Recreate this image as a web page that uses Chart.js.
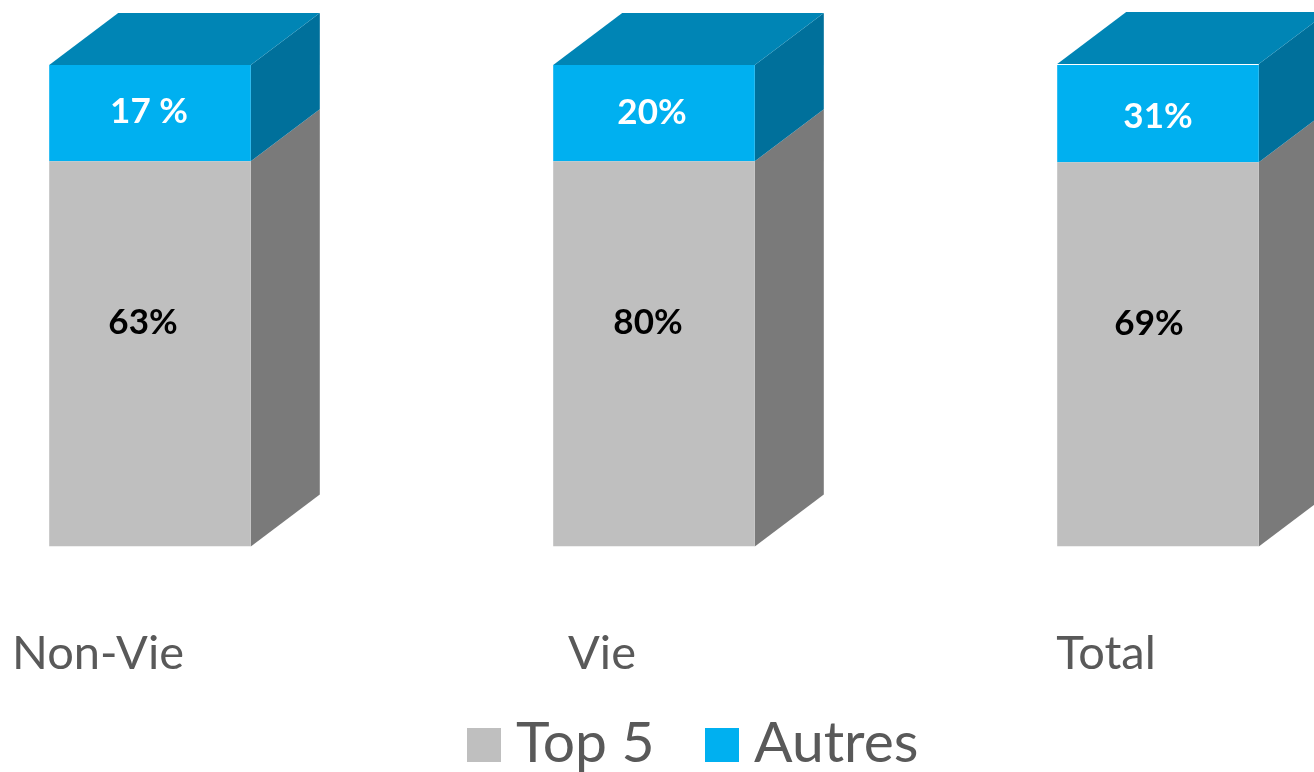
<!DOCTYPE html>
<html>
<head>
<meta charset="utf-8">
<script src="https://cdn.jsdelivr.net/npm/chart.js@4"></script>
<style>
  html, body { margin: 0; padding: 0; background: #fff; overflow: hidden; width: 1314px; height: 772px; }
  #wrap { position: absolute; left: -102px; top: 0; width: 1512px; height: 772px; }
</style>
</head>
<body>
<div id="wrap"><canvas id="chart" width="1512" height="772"></canvas></div>
<script>
const categories = ['Non-Vie', 'Vie', 'Total'];
// bar heights as drawn in the picture (all three are the same shape)
const top5Heights = [80, 80, 79.8];
const autresHeights = [20, 20, 20.4];
// the printed labels do not follow the heights
const top5Labels = ['63%', '80%', '69%'];
const autresLabels = ['17 %', '20%', '31%'];

const fontName = 'Lato, "Open Sans", sans-serif';

// faces of the block, drawn behind the front bars
const blockFaces = {
  id: 'blockFaces',
  beforeDatasetsDraw(chart, args, opts) {
    const c = chart.ctx;
    chart.data.datasets.forEach((ds, i) => {
      const last = i === chart.data.datasets.length - 1;
      chart.getDatasetMeta(i).data.forEach(bar => {
        const right = bar.x + bar.width / 2;
        const left = bar.x - bar.width / 2;
        c.fillStyle = ds.sideColor;
        c.beginPath();
        c.moveTo(right, bar.y);
        c.lineTo(right + opts.dx, bar.y - opts.dy);
        c.lineTo(right + opts.dx, bar.base - opts.dy);
        c.lineTo(right, bar.base);
        c.closePath();
        c.fill();
        if (last) {
          c.fillStyle = ds.topColor;
          c.beginPath();
          c.moveTo(left, bar.y);
          c.lineTo(left + opts.dx, bar.y - opts.dy);
          c.lineTo(right + opts.dx, bar.y - opts.dy);
          c.lineTo(right, bar.y);
          c.closePath();
          c.fill();
        }
      });
    });
  }
};

const barLabels = {
  id: 'barLabels',
  afterDatasetsDraw(chart, args, opts) {
    const c = chart.ctx;
    c.font = opts.font;
    c.textAlign = 'center';
    c.textBaseline = 'middle';
    chart.data.datasets.forEach((ds, i) => {
      chart.getDatasetMeta(i).data.forEach((bar, j) => {
        const nudge = ds.labelNudge[j];
        c.fillStyle = ds.labelColor;
        c.fillText(ds.labelText[j], bar.x + nudge[0], (bar.y + bar.base) / 2 + nudge[1]);
      });
    });
  }
};

// the built-in legend fixes the box/text gap to half the font size, too wide here
const legendRow = {
  id: 'legendRow',
  afterDraw(chart, args, opts) {
    const c = chart.ctx;
    c.font = opts.font;
    c.textAlign = 'left';
    c.textBaseline = 'alphabetic';
    chart.data.datasets.forEach((ds, i) => {
      const x = opts.boxX[i];
      c.fillStyle = ds.backgroundColor;
      c.fillRect(x, opts.boxY, opts.boxSize, opts.boxSize);
      c.fillStyle = opts.color;
      c.fillText(ds.label, x + opts.boxSize + opts.gap, opts.boxY + opts.boxSize);
    });
  }
};

new Chart(document.getElementById('chart'), {
  type: 'bar',
  data: {
    labels: categories,
    datasets: [
      {
        label: 'Top 5',
        data: top5Heights,
        backgroundColor: '#bfbfbf',
        sideColor: '#7a7a7a',
        labelText: top5Labels,
        labelColor: '#000000',
        labelNudge: [[-7, -31], [-6, -31], [-9, -31]]
      },
      {
        label: 'Autres',
        data: autresHeights,
        backgroundColor: '#00b0f0',
        sideColor: '#00709b',
        topColor: '#0085b5',
        labelText: autresLabels,
        labelColor: '#ffffff',
        labelNudge: [[-1, -1], [-2, 0], [0, 4]]
      }
    ]
  },
  options: {
    responsive: false,
    animation: false,
    categoryPercentage: 0.4,
    barPercentage: 1,
    layout: { padding: { top: 65, right: 0, left: 0, bottom: 19 } },
    scales: {
      x: {
        stacked: true,
        grid: { display: false },
        border: { display: false },
        ticks: {
          color: '#595959',
          font: { family: fontName, size: 47 },
          labelOffset: -52,
          padding: 71,
          maxRotation: 0
        }
      },
      y: { stacked: true, display: false, min: 0, max: 100 }
    },
    plugins: {
      tooltip: { enabled: false },
      legend: { display: false },
      blockFaces: { dx: 69, dy: 52 },
      barLabels: { font: 'bold 35px ' + fontName },
      legendRow: {
        font: '57px ' + fontName,
        color: '#595959',
        boxX: [569, 807],
        boxY: 728,
        boxSize: 34,
        gap: 15
      }
    }
  },
  plugins: [blockFaces, barLabels, legendRow]
});
</script>
</body>
</html>
